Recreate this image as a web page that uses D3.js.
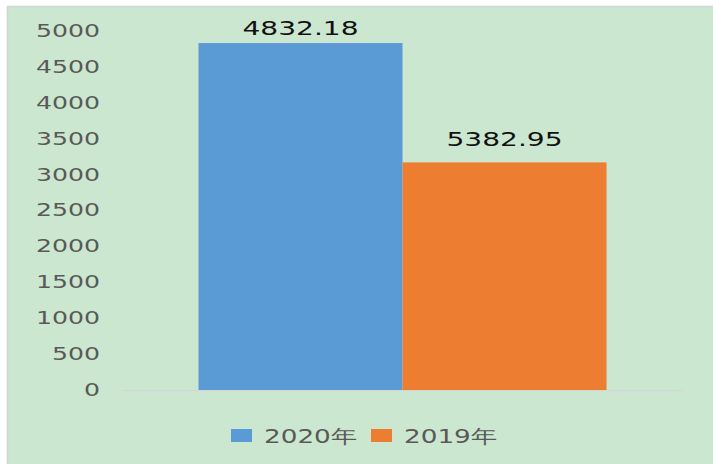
<!DOCTYPE html>
<html>
<head>
<meta charset="utf-8">
<script src="https://cdn.jsdelivr.net/npm/d3@7"></script>
<style>
  body { margin: 0; background: #fff; }
</style>
</head>
<body>
<script>
// data
const categories = ["2020年", "2019年"];
const barValues = [4832.18, 3170]; // drawn heights
const labelTexts = ["4832.18", "5382.95"]; // printed labels
const colors = ["#5b9bd5", "#ed7d31"];
const yTicks = [0, 500, 1000, 1500, 2000, 2500, 3000, 3500, 4000, 4500, 5000];

const width = 713, height = 464;
const stretch = 1.48; // text looks widened in the original

const svg = d3.select("body").append("svg")
  .attr("width", width)
  .attr("height", height)
  .attr("font-family", "DejaVu Sans, sans-serif");

// panel
svg.append("rect")
  .attr("x", 7.5).attr("y", 6.5)
  .attr("width", width).attr("height", height)
  .attr("fill", "#cce7cf")
  .attr("stroke", "#d4d4d4")
  .attr("stroke-width", 1.5);

const y = d3.scaleLinear().domain([0, 5000]).range([390, 31]);

const x = d3.scaleBand()
  .domain(["g"])
  .range([122, 683])
  .paddingInner(0)
  .paddingOuter(0.1875);

const xs = d3.scaleBand()
  .domain(categories)
  .range([0, x.bandwidth()]);

// y axis labels
const yAxis = svg.append("g")
  .attr("transform", "translate(100,0)")
  .call(d3.axisLeft(y).tickValues(yTicks).tickSize(0).tickPadding(0).tickFormat(d3.format("d")));
yAxis.select(".domain").remove();
yAxis.selectAll("text")
  .attr("font-size", 17)
  .attr("fill", "#595959")
  .attr("font-family", "DejaVu Sans, sans-serif")
  .attr("transform", `scale(${stretch},1)`);

// baseline
svg.append("line")
  .attr("x1", 122).attr("x2", 683)
  .attr("y1", y(0) + 0.5).attr("y2", y(0) + 0.5)
  .attr("stroke", "#d6d6d6")
  .attr("stroke-width", 1.5);

// bars
svg.append("g")
  .selectAll("rect")
  .data(categories)
  .join("rect")
  .attr("x", (d) => x("g") + xs(d))
  .attr("y", (d, i) => y(barValues[i]))
  .attr("width", xs.bandwidth())
  .attr("height", (d, i) => y(0) - y(barValues[i]))
  .attr("fill", (d, i) => colors[i]);

// value labels
const labelGap = [8.5, 16.5];
svg.append("g")
  .selectAll("text")
  .data(categories)
  .join("text")
  .attr("transform", (d, i) =>
    `translate(${x("g") + xs(d) + xs.bandwidth() / 2},${y(barValues[i]) - labelGap[i]}) scale(${stretch},1)`)
  .attr("text-anchor", "middle")
  .attr("font-size", 19)
  .attr("fill", "#111")
  .text((d, i) => labelTexts[i]);

// legend
const legendX = [231, 371];
const legend = svg.append("g")
  .selectAll("g")
  .data(categories)
  .join("g")
  .attr("transform", (d, i) => `translate(${legendX[i]},429)`);
legend.append("rect")
  .attr("width", 21).attr("height", 13)
  .attr("fill", (d, i) => colors[i]);
legend.append("text")
  .attr("x", 33).attr("y", 14)
  .attr("font-size", 19)
  .attr("fill", "#595959")
  .attr("textLength", 93)
  .attr("lengthAdjust", "spacingAndGlyphs")
  .text((d) => d);
</script>
</body>
</html>
